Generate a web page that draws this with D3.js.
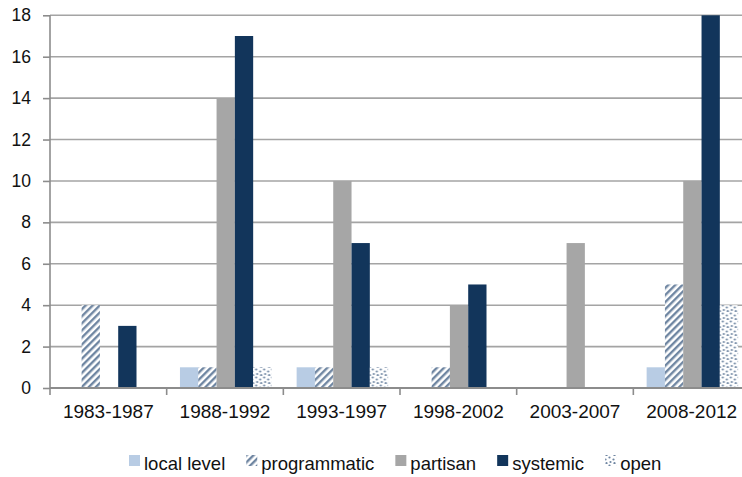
<!DOCTYPE html>
<html><head><meta charset="utf-8">
<script src="https://cdn.jsdelivr.net/npm/d3@7"></script>
<style>
html,body{margin:0;padding:0;background:#fff;}
svg{display:block;font-family:"Liberation Sans",Arial,sans-serif;}
</style></head>
<body><svg id="c" width="742" height="477"></svg>
<script>
const categories = ["1983-1987","1988-1992","1993-1997","1998-2002","2003-2007","2008-2012"];
const seriesNames = ["local level","programmatic","partisan","systemic","open"];
const localLevel   = [0, 1, 1, 0, 0, 1];
const programmatic = [4, 1, 1, 1, 0, 5];
const partisan     = [0, 14, 10, 4, 7, 10];
const systemic     = [3, 17, 7, 5, 0, 18];
const openVals     = [0, 1, 1, 0, 0, 4];
const yTicks = [0,2,4,6,8,10,12,14,16,18];

const seriesValues = [localLevel, programmatic, partisan, systemic, openVals];
const fills = ["#b8cce4","url(#hatch)","#a6a6a6","#12355b","url(#dots)"];

const svg = d3.select("#c");
const defs = svg.append("defs");
const hp = defs.append("pattern").attr("id","hatch").attr("patternUnits","userSpaceOnUse")
  .attr("width",5).attr("height",5).attr("patternTransform","rotate(45)");
hp.append("rect").attr("width",5).attr("height",5).attr("fill","#fff");
hp.append("rect").attr("width",2.4).attr("height",5).attr("fill","#6f86a2");
const dp = defs.append("pattern").attr("id","dots").attr("patternUnits","userSpaceOnUse")
  .attr("width",8).attr("height",8);
dp.append("rect").attr("width",8).attr("height",8).attr("fill","#fff");
[[1.5,1.5],[5.5,3.5],[2.5,6],[6.5,7.2]].forEach(([cx,cy])=>dp.append("circle").attr("cx",cx).attr("cy",cy).attr("r",1.1).attr("fill","#6f86a2"));

const x0 = d3.scaleBand().domain(categories).range([50,750]).paddingInner(0).paddingOuter(0);
const x1 = d3.scaleBand().domain(seriesNames).range([13.3, 13.3+91.5]);
const y = d3.scaleLinear().domain([0,18]).range([388,15.3]);

// gridlines
svg.append("g").selectAll("line").data(yTicks.filter(d=>d>0)).join("line")
  .attr("x1",50).attr("x2",742).attr("y1",d=>y(d)).attr("y2",d=>y(d))
  .attr("stroke","#a4a4a4").attr("stroke-width",1.6);

// y axis
const ya = d3.axisLeft(y).tickValues(yTicks).tickSize(7).tickPadding(12).tickFormat(d3.format("d"));
const yg = svg.append("g").attr("transform","translate(50,0)").call(ya);
yg.select(".domain").attr("stroke","#8c8c8c").attr("stroke-width",1.6).attr("d","M0,15.3V388");
yg.selectAll(".tick line").attr("stroke","#8c8c8c").attr("stroke-width",1.6);
yg.selectAll(".tick text").attr("font-size",17.5).attr("fill","#111").attr("font-family","Liberation Sans, Arial, sans-serif");

// bars
const groups = svg.append("g").selectAll("g").data(categories).join("g")
  .attr("transform",d=>`translate(${x0(d)},0)`);
groups.selectAll("rect").data((c,i)=>seriesNames.map((s,j)=>({s, v:seriesValues[j][i], f:fills[j]})).filter(d=>d.v>0))
  .join("rect")
  .attr("x",d=>x1(d.s)).attr("width",x1.bandwidth())
  .attr("y",d=>y(d.v)).attr("height",d=>y(0)-y(d.v))
  .attr("fill",d=>d.f);

// x axis
const xa = d3.axisBottom(x0).tickSize(0).tickPadding(17);
const xg = svg.append("g").attr("transform","translate(0,388)").call(xa);
xg.select(".domain").remove();
xg.selectAll(".tick text").attr("font-size",19).attr("fill","#111").attr("font-family","Liberation Sans, Arial, sans-serif");
svg.append("line").attr("x1",50).attr("x2",742).attr("y1",388).attr("y2",388).attr("stroke","#8c8c8c").attr("stroke-width",1.8);
const bounds = categories.map(c=>x0(c)).concat([x0.range()[1]]);
svg.append("g").selectAll("line").data(bounds.filter(b=>b<742)).join("line")
  .attr("x1",d=>d).attr("x2",d=>d).attr("y1",388).attr("y2",395)
  .attr("stroke","#8c8c8c").attr("stroke-width",1.6);

// legend
const legend = svg.append("g");
const items = seriesNames.map((s,j)=>({s,f:fills[j],j}));
let lx = 129;
const gaps = 21;
items.forEach(it=>{
  const g = legend.append("g");
  g.append("rect").attr("x",lx).attr("y",455).attr("width",11).attr("height",11).attr("fill",it.f);
  const t = g.append("text").attr("x",lx+15).attr("y",469.5).attr("font-size",18.5).attr("fill","#111").text(it.s);
  lx += 15 + t.node().getComputedTextLength() + gaps;
});
</script></body></html>
